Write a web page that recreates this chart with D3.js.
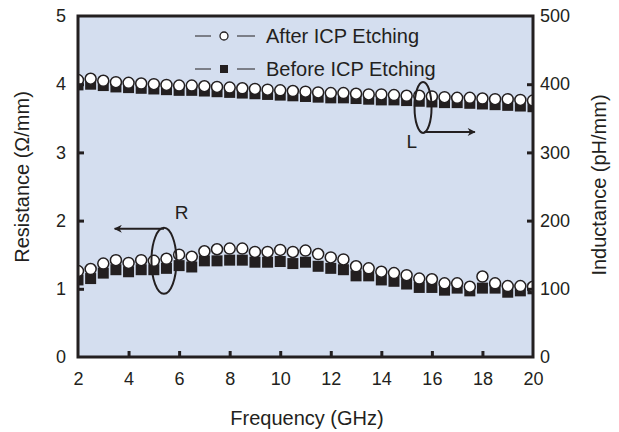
<!DOCTYPE html>
<html>
<head>
<meta charset="utf-8">
<script src="https://cdn.jsdelivr.net/npm/d3@7"></script>
<style>
  body { margin: 0; background: #fff; }
  svg text { font-family: "Liberation Sans", Arial, Helvetica, sans-serif; fill: #231f20; }
</style>
</head>
<body>
<svg id="board" width="619" height="432"></svg>
<script>
var frequency = [2, 2.5, 3, 3.5, 4, 4.5, 5, 5.5, 6, 6.5, 7, 7.5, 8, 8.5, 9, 9.5, 10, 10.5, 11,
  11.5, 12, 12.5, 13, 13.5, 14, 14.5, 15, 15.5, 16, 16.5, 17, 17.5, 18, 18.5, 19, 19.5, 20];

var resistanceAfter = [1.26, 1.29, 1.37, 1.42, 1.38, 1.42, 1.41, 1.44, 1.50, 1.47, 1.55, 1.58, 1.59,
  1.59, 1.54, 1.54, 1.57, 1.54, 1.56, 1.51, 1.46, 1.43, 1.33, 1.30, 1.25, 1.23, 1.20, 1.15, 1.14,
  1.08, 1.08, 1.03, 1.18, 1.08, 1.04, 1.04, 1.03];
var resistanceBefore = [1.13, 1.15, 1.23, 1.28, 1.25, 1.28, 1.28, 1.30, 1.34, 1.32, 1.41, 1.41, 1.42,
  1.42, 1.39, 1.39, 1.40, 1.37, 1.39, 1.33, 1.30, 1.28, 1.19, 1.19, 1.13, 1.11, 1.07, 1.02, 1.02,
  0.98, 1.01, 0.97, 1.01, 1.01, 0.95, 0.97, 1.00];

var inductanceAfter = [406, 408, 405, 403, 402, 401, 400, 399, 398, 398, 397, 396, 395, 394, 393,
  392, 391, 390, 389, 388, 387, 387, 386, 385, 385, 384, 383, 383, 382, 381, 380, 380, 379, 378,
  378, 377, 376];
var inductanceBefore = [399, 400, 398, 396, 395, 394, 393, 392, 391, 391, 390, 389, 388, 387, 386,
  385, 384, 383, 382, 381, 380, 380, 379, 378, 377, 377, 376, 375, 374, 373, 373, 372, 371, 370,
  369, 368, 367];

var xTicks = [2, 4, 6, 8, 10, 12, 14, 16, 18, 20];
var leftTicks = [0, 1, 2, 3, 4, 5];
var rightTicks = [0, 100, 200, 300, 400, 500];
var legendLabels = ['After ICP Etching', 'Before ICP Etching'];

var ink = '#231f20';
var plot = {left: 78, right: 533, top: 16, bottom: 357};

var svg = d3.select('#board');
var x = d3.scaleLinear().domain([2, 20]).range([plot.left, plot.right]);
var yR = d3.scaleLinear().domain([0, 5]).range([plot.bottom, plot.top]);
var yL = d3.scaleLinear().domain([0, 500]).range([plot.bottom, plot.top]);

var defs = svg.append('defs');
defs.append('clipPath')
  .attr('id', 'plot-clip')
  .append('rect')
  .attr('x', plot.left)
  .attr('y', plot.top)
  .attr('width', plot.right - plot.left)
  .attr('height', plot.bottom - plot.top);

svg.append('rect')
  .attr('x', plot.left)
  .attr('y', plot.top)
  .attr('width', plot.right - plot.left)
  .attr('height', plot.bottom - plot.top)
  .attr('fill', '#d4deef');

drawSeries();
drawAxes();
drawLegend();
drawAnnotations();

function drawAxes() {
  var fmt = d3.format('d');
  var bottom = d3.axisBottom(x).tickValues(xTicks).tickFormat(fmt)
    .tickSizeInner(-6).tickSizeOuter(0).tickPadding(15);
  var left = d3.axisLeft(yR).tickValues(leftTicks).tickFormat(fmt)
    .tickSizeInner(-6).tickSizeOuter(0).tickPadding(12);
  var right = d3.axisRight(yL).tickValues(rightTicks).tickFormat(fmt)
    .tickSizeInner(-6).tickSizeOuter(0).tickPadding(7);

  var gb = svg.append('g').attr('transform', 'translate(0,' + plot.bottom + ')').call(bottom);
  var gl = svg.append('g').attr('transform', 'translate(' + plot.left + ',0)').call(left);
  var gr = svg.append('g').attr('transform', 'translate(' + plot.right + ',0)').call(right);

  [gb, gl, gr].forEach(styleAxis);
  // end ticks would sit on the frame itself
  gb.selectAll('.tick line').filter(function(d) { return d === 2 || d === 20; }).remove();
  gl.selectAll('.tick line').filter(function(d) { return d === 0 || d === 5; }).remove();
  gr.selectAll('.tick line').filter(function(d) { return d === 0 || d === 500; }).remove();

  svg.append('rect')
    .attr('x', plot.left)
    .attr('y', plot.top)
    .attr('width', plot.right - plot.left)
    .attr('height', plot.bottom - plot.top)
    .attr('fill', 'none')
    .attr('stroke', ink)
    .attr('stroke-width', 3);

  svg.append('text')
    .attr('x', 307)
    .attr('y', 425)
    .attr('text-anchor', 'middle')
    .attr('font-size', 20)
    .text('Frequency (GHz)');

  svg.append('text')
    .attr('transform', 'translate(29,177) rotate(-90)')
    .attr('text-anchor', 'middle')
    .attr('font-size', 20)
    .text('Resistance (\u03a9/mm)');

  svg.append('text')
    .attr('transform', 'translate(606,185) rotate(-90)')
    .attr('text-anchor', 'middle')
    .attr('font-size', 20)
    .text('Inductance (pH/mm)');
}

function styleAxis(g) {
  g.select('.domain').remove();
  g.selectAll('.tick line').attr('stroke', ink).attr('stroke-width', 3);
  g.selectAll('.tick text')
    .attr('font-size', 18)
    .attr('fill', ink);
}

function drawSeries() {
  var layer = svg.append('g').attr('clip-path', 'url(#plot-clip)');
  drawSquares(layer, inductanceBefore, yL);
  drawCircles(layer, inductanceAfter, yL);
  drawSquares(layer, resistanceBefore, yR);
  drawCircles(layer, resistanceAfter, yR);
}

function drawSquares(layer, values, yScale) {
  var size = 11;
  layer.selectAll(null)
    .data(values)
    .enter().append('rect')
    .attr('x', function(d, i) { return x(frequency[i]) - size / 2; })
    .attr('y', function(d) { return yScale(d) - size / 2; })
    .attr('width', size)
    .attr('height', size)
    .attr('fill', ink);
}

function drawCircles(layer, values, yScale) {
  layer.selectAll(null)
    .data(values)
    .enter().append('circle')
    .attr('cx', function(d, i) { return x(frequency[i]); })
    .attr('cy', function(d) { return yScale(d); })
    .attr('r', 5.5)
    .attr('fill', '#fff')
    .attr('stroke', ink)
    .attr('stroke-width', 1.5);
}

function drawLegend() {
  var rows = [36, 69];
  rows.forEach(function(yPos, i) {
    var g = svg.append('g');
    g.append('line').attr('x1', 195).attr('x2', 211).attr('y1', yPos).attr('y2', yPos)
      .attr('stroke', ink).attr('stroke-width', 1);
    g.append('line').attr('x1', 237).attr('x2', 255).attr('y1', yPos).attr('y2', yPos)
      .attr('stroke', ink).attr('stroke-width', 1);
    if (i === 0) {
      g.append('circle').attr('cx', 224).attr('cy', yPos).attr('r', 4)
        .attr('fill', '#fff').attr('stroke', ink).attr('stroke-width', 1.3);
    }
    else {
      g.append('rect').attr('x', 220).attr('y', yPos - 4).attr('width', 8).attr('height', 8)
        .attr('fill', ink);
    }
    g.append('text')
      .attr('x', 266)
      .attr('y', yPos + 7)
      .attr('font-size', 20)
      .text(legendLabels[i]);
  });
}

function drawAnnotations() {
  defs.append('marker')
    .attr('id', 'head')
    .attr('viewBox', '0 0 10 10')
    .attr('refX', 9)
    .attr('refY', 5)
    .attr('markerWidth', 5)
    .attr('markerHeight', 4)
    .attr('orient', 'auto')
    .attr('markerUnits', 'strokeWidth')
    .append('path')
    .attr('d', 'M0,0L10,5L0,10L3,5Z')
    .attr('fill', ink);

  // R bubble, arrow pointing to the left axis
  svg.append('ellipse')
    .attr('cx', x(5.4)).attr('cy', yR(1.41)).attr('rx', 12.5).attr('ry', 33)
    .attr('fill', 'none').attr('stroke', ink).attr('stroke-width', 2);
  svg.append('line')
    .attr('x1', x(5.4)).attr('y1', yR(1.88)).attr('x2', x(3.45)).attr('y2', yR(1.88))
    .attr('stroke', ink).attr('stroke-width', 2).attr('marker-end', 'url(#head)');
  svg.append('text')
    .attr('x', x(6.1)).attr('y', yR(2.03))
    .attr('text-anchor', 'middle')
    .attr('font-size', 19)
    .text('R');

  // L bubble, arrow pointing to the right axis
  svg.append('ellipse')
    .attr('cx', x(15.65)).attr('cy', yL(366)).attr('rx', 8.5).attr('ry', 25.5)
    .attr('fill', 'none').attr('stroke', ink).attr('stroke-width', 2);
  svg.append('line')
    .attr('x1', x(15.7)).attr('y1', yL(330)).attr('x2', x(17.7)).attr('y2', yL(330))
    .attr('stroke', ink).attr('stroke-width', 2).attr('marker-end', 'url(#head)');
  svg.append('text')
    .attr('x', x(15.2)).attr('y', yL(306))
    .attr('text-anchor', 'middle')
    .attr('font-size', 19)
    .text('L');
}
</script>
</body>
</html>
